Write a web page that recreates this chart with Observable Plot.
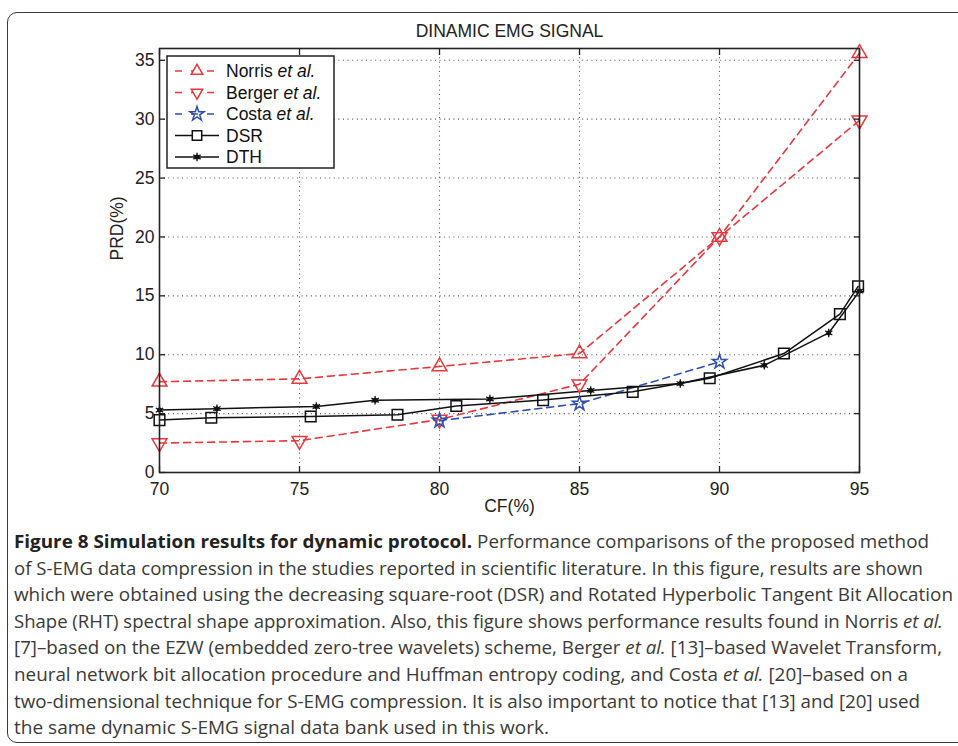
<!DOCTYPE html>
<html>
<head>
<meta charset="utf-8">
<script src="https://cdn.jsdelivr.net/npm/d3@7"></script>
<script src="https://cdn.jsdelivr.net/npm/@observablehq/plot@0.6"></script>
<style>
  html, body { margin: 0; padding: 0; background: #fff; width: 958px; height: 746px; overflow: hidden; }
  #card { position: absolute; left: 7px; top: 12px; width: 980px; height: 731px; border: 1.5px solid #3a3a3a; border-radius: 10px; box-sizing: border-box; }
  #chart { position: absolute; left: 0; top: 0; }
  #legend { position: absolute; left: 0; top: 0; }
  #caption { position: absolute; left: 14px; top: 528px; font-family: "Open Sans", sans-serif; font-size: 18.5px; line-height: 26.6px; color: #3a3a3a; }
  #caption .ln { white-space: nowrap; transform-origin: 0 50%; width: max-content; }
  #caption b { color: #222; font-weight: 700; }
</style>
</head>
<body>
<div id="card"></div>
<div id="chart"></div>
<div id="caption"></div>
<script>
// ---- data ----
const titleText = "DINAMIC EMG SIGNAL";
const xLabel = "CF(%)";
const yLabel = "PRD(%)";
const xTicks = [70, 75, 80, 85, 90, 95];
const yTicks = [0, 5, 10, 15, 20, 25, 30, 35];

const norrisCF  = [70, 75, 80, 85, 90, 95];
const norrisPRD = [7.7, 7.95, 9.0, 10.1, 20.0, 35.6];
const bergerCF  = [70, 75, 80, 85, 90, 95];
const bergerPRD = [2.5, 2.7, 4.5, 7.5, 20.0, 29.9];
const costaCF   = [80, 85, 90];
const costaPRD  = [4.4, 5.85, 9.4];
const dsrCF  = [70, 71.85, 75.4, 78.5, 80.6, 83.7, 86.9, 89.65, 92.3, 94.3, 94.95];
const dsrPRD = [4.45, 4.65, 4.75, 4.9, 5.65, 6.15, 6.85, 8.0, 10.1, 13.45, 15.8];
const dthCF  = [70, 72.05, 75.6, 77.7, 81.8, 85.4, 88.6, 91.6, 93.9, 95];
const dthPRD = [5.3, 5.42, 5.6, 6.13, 6.24, 6.97, 7.55, 9.1, 11.85, 15.4];

const seriesNames = ["Norris", "Berger", "Costa", "DSR", "DTH"];
const seriesItalic = [" et al.", " et al.", " et al.", "", ""];

const captionLines = [
  "<b>Figure 8 Simulation results for dynamic protocol.</b> Performance comparisons of the proposed method",
  "of S-EMG data compression in the studies reported in scientific literature. In this figure, results are shown",
  "which were obtained using the decreasing square-root (DSR) and Rotated Hyperbolic Tangent Bit Allocation",
  "Shape (RHT) spectral shape approximation. Also, this figure shows performance results found in Norris <i>et al.</i>",
  "[7]–based on the EZW (embedded zero-tree wavelets) scheme, Berger <i>et al.</i> [13]–based Wavelet Transform,",
  "neural network bit allocation procedure and Huffman entropy coding, and Costa <i>et al.</i> [20]–based on a",
  "two-dimensional technique for S-EMG compression. It is also important to notice that [13] and [20] used",
  "the same dynamic S-EMG signal data bank used in this work."
];
const captionEnds = [929, 923, 953, 943, 942, 908, 920, 549];

// ---- build tables ----
const zip = (xs, ys) => xs.map((x, i) => ({cf: x, prd: ys[i]}));
const norris = zip(norrisCF, norrisPRD);
const berger = zip(bergerCF, bergerPRD);
const costa = zip(costaCF, costaPRD);
const dsr = zip(dsrCF, dsrPRD);
const dth = zip(dthCF, dthPRD);

const RED = "#e8383d";
const BLUE = "#2f4fae";
const BLACK = "#111";
const dash = "7,5";

const chart = Plot.plot({
  width: 958,
  height: 520,
  marginLeft: 159,
  marginRight: 99,
  marginTop: 48,
  marginBottom: 48,
  x: {domain: [70, 95]},
  y: {domain: [0, 36]},
  style: {fontFamily: "'Liberation Sans', Arial, sans-serif", fontSize: "17.5px", color: "#222", background: "transparent", overflow: "visible"},
  marks: [
    Plot.gridX(xTicks.slice(1, -1), {stroke: "#555", strokeOpacity: 1, strokeDasharray: "1,3.6", strokeWidth: 1.1}),
    Plot.gridY(yTicks.slice(1), {stroke: "#555", strokeOpacity: 1, strokeDasharray: "1,3.6", strokeWidth: 1.1}),
    Plot.line(norris, {x: "cf", y: "prd", stroke: RED, strokeWidth: 1.6, strokeDasharray: dash}),
    Plot.line(berger, {x: "cf", y: "prd", stroke: RED, strokeWidth: 1.6, strokeDasharray: dash}),
    Plot.line(costa, {x: "cf", y: "prd", stroke: BLUE, strokeWidth: 1.6, strokeDasharray: dash}),
    Plot.line(dsr, {x: "cf", y: "prd", stroke: BLACK, strokeWidth: 1.5}),
    Plot.line(dth, {x: "cf", y: "prd", stroke: BLACK, strokeWidth: 1.5}),
    Plot.dot(norris, {x: "cf", y: "prd", symbol: "triangle", r: 5.5, stroke: RED, fill: "none", strokeWidth: 1.5}),
    Plot.dot(berger, {x: "cf", y: "prd", symbol: "triangle", r: 5.5, rotate: 180, stroke: RED, fill: "none", strokeWidth: 1.5}),
    Plot.dot(costa, {x: "cf", y: "prd", symbol: "star", r: 4.5, stroke: BLUE, fill: "none", strokeWidth: 1.5}),
    Plot.dot(dsr, {x: "cf", y: "prd", symbol: "square", r: 6, stroke: BLACK, fill: "none", strokeWidth: 1.5}),
    Plot.dot(dth, {x: "cf", y: "prd", r: 2.5, fill: BLACK, stroke: null}),
    Plot.dot(dth, {x: "cf", y: "prd", symbol: "asterisk", r: 4, stroke: BLACK, strokeWidth: 1.3}),
    Plot.axisX(xTicks, {anchor: "bottom", tickSize: -6, tickPadding: 16, label: null, stroke: "#222", strokeWidth: 1.3}),
    Plot.axisX(xTicks, {anchor: "top", tickSize: -6, tickFormat: () => "", label: null, stroke: "#222", strokeWidth: 1.3}),
    Plot.axisY(yTicks, {anchor: "left", tickSize: -6, tickPadding: 11, label: null, stroke: "#222", strokeWidth: 1.3}),
    Plot.axisY(yTicks, {anchor: "right", tickSize: -6, tickFormat: () => "", label: null, stroke: "#222", strokeWidth: 1.3}),
    Plot.frame({stroke: "#222", strokeWidth: 1.6}),
    Plot.text([xLabel], {frameAnchor: "bottom", lineAnchor: "middle", dy: 34, text: d => d, fontSize: 17.5}),
    Plot.text([yLabel], {frameAnchor: "left", dx: -42, rotate: -90, text: d => d, fontSize: 17.5}),
    Plot.text([titleText], {frameAnchor: "top", lineAnchor: "middle", dy: -17, text: d => d, fontSize: 17.5})
  ]
});
document.getElementById("chart").appendChild(chart);

// ---- legend overlay ----
const lg = d3.select("body").append("svg").attr("id", "legend").attr("width", 958).attr("height", 520)
  .style("font-family", "'Liberation Sans', Arial, sans-serif").style("font-size", "17.5px");
const box = {x: 167, y: 56, w: 167, h: 112};
lg.append("rect").attr("x", box.x).attr("y", box.y).attr("width", box.w).attr("height", box.h)
  .attr("fill", "#fff").attr("stroke", "#222").attr("stroke-width", 1.5);
const styles = [
  {stroke: RED, dash: dash, sym: d3.symbolTriangle2, rot: 0},
  {stroke: RED, dash: dash, sym: d3.symbolTriangle2, rot: 180},
  {stroke: BLUE, dash: dash, sym: d3.symbolStar, rot: 0},
  {stroke: BLACK, dash: null, sym: d3.symbolSquare2, rot: 0},
  {stroke: BLACK, dash: null, sym: null, rot: 0}
];
seriesNames.forEach((name, i) => {
  const cy = 71 + i * 21.5;
  const s = styles[i];
  const g = lg.append("g");
  g.append("line").attr("x1", 175).attr("x2", 219).attr("y1", cy).attr("y2", cy)
    .attr("stroke", s.stroke).attr("stroke-width", 1.6).attr("stroke-dasharray", s.dash ? "7,9" : null);
  if (s.sym) {
    const size = i === 3 ? Math.PI * 36 : Math.PI * 30;
    g.append("path").attr("d", d3.symbol(s.sym, i === 2 ? Math.PI * 20 : size)())
      .attr("transform", `translate(197,${cy}) rotate(${s.rot})`)
      .attr("fill", i === 2 ? "none" : "#fff").attr("stroke", s.stroke).attr("stroke-width", 1.5);
  } else {
    g.append("circle").attr("cx", 197).attr("cy", cy).attr("r", 2.5).attr("fill", BLACK);
    g.append("path").attr("d", d3.symbol(d3.symbolAsterisk, Math.PI * 16)()).attr("transform", `translate(197,${cy})`)
      .attr("stroke", BLACK).attr("stroke-width", 1.3).attr("fill", "none");
  }
  const t = g.append("text").attr("x", 226).attr("y", cy).attr("dy", "0.35em").attr("fill", "#111");
  t.append("tspan").text(name);
  if (seriesItalic[i]) t.append("tspan").attr("font-style", "italic").text(seriesItalic[i]);
});

// ---- caption ----
const cap = document.getElementById("caption");
captionLines.forEach((html) => {
  const d = document.createElement("div");
  d.className = "ln";
  d.innerHTML = html;
  cap.appendChild(d);
});
const capLeft = 14;
Array.from(cap.children).forEach((d, i) => {
  const w = d.getBoundingClientRect().width;
  const target = captionEnds[i] - capLeft;
  d.style.transform = `scaleX(${target / w})`;
});
</script>
</body>
</html>
